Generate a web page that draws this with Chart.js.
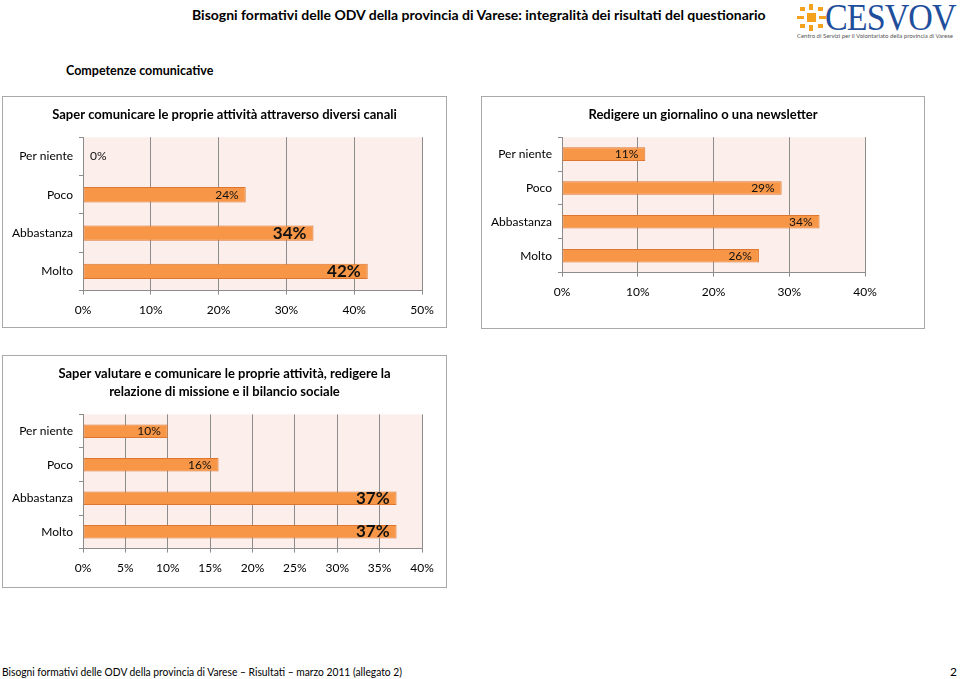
<!DOCTYPE html>
<html>
<head>
<meta charset="utf-8">
<script src="https://cdn.jsdelivr.net/npm/chart.js@4/dist/chart.umd.min.js"></script>
<style>
  body { margin: 0; width: 960px; height: 679px; background: #fff; position: relative; overflow: hidden; font-family: Lato, 'Open Sans', sans-serif; color: #000; }
  .txt { position: absolute; white-space: nowrap; }
  .box { position: absolute; border: 1px solid #a9a9a9; box-sizing: border-box; background: #fff; }
  .box canvas { display: block; }
</style>
</head>
<body>

<div class="txt" style="left:192px; top:6px; font-size:14px; font-weight:bold;">Bisogni formativi delle ODV della provincia di Varese: integralità dei risultati del questionario</div>

<!-- logo -->
<svg style="position:absolute; left:796px; top:4px;" width="30" height="28" viewBox="0 0 30 28">
  <g fill="#f4a11d">
    <rect x="11" y="9" width="9" height="9"/>
    <rect x="13" y="0" width="4" height="6"/>
    <rect x="13" y="21" width="4" height="6"/>
    <rect x="1" y="12" width="7" height="3"/>
    <rect x="23" y="12" width="7" height="3"/>
    <rect x="4" y="3" width="5" height="4"/>
    <rect x="22" y="3" width="5" height="4"/>
    <rect x="4" y="20" width="5" height="4"/>
    <rect x="22" y="20" width="5" height="4"/>
  </g>
</svg>
<div class="txt" style="left:825px; top:-4px; font-family:'Liberation Serif', serif; font-size:37px; color:#1f4f9c; letter-spacing:-1px; transform:scaleX(0.92); transform-origin:left;">CESVOV</div>
<div class="txt" style="left:797px; top:32px; font-size:6px; color:#555;">Centro di Servizi per il Volontariato della provincia di Varese</div>

<div class="txt" style="left:66px; top:63px; font-size:12.5px; font-weight:bold;">Competenze comunicative</div>

<div class="box" style="left:2px; top:96px; width:445px; height:232px;"><canvas id="canali"></canvas></div>
<div class="box" style="left:481px; top:96px; width:444px; height:233px;"><canvas id="newsletter"></canvas></div>
<div class="box" style="left:2px; top:355px; width:445px; height:233px;"><canvas id="bilancio"></canvas></div>

<div class="txt" style="left:2px; top:664px; font-size:12px; transform:scaleX(0.855); transform-origin:left;">Bisogni formativi delle ODV della provincia di Varese – Risultati – marzo 2011 (allegato 2)</div>
<div class="txt" style="left:950px; top:664px; font-size:12px;">2</div>

<script>
// CATEGORIES AND VALUES (percent)
const categories = ['Per niente', 'Poco', 'Abbastanza', 'Molto'];
const canaliValues = [0, 24, 34, 42];
const newsletterValues = [11, 29, 34, 26];
const bilancioValues = [10, 16, 37, 37];

// AXIS RANGES
const canaliMax = 50, canaliStep = 10;
const newsletterMax = 40, newsletterStep = 10;
const bilancioMax = 40, bilancioStep = 5;

const FONT = "Lato, 'Open Sans', sans-serif";
Chart.defaults.font.family = FONT;
Chart.defaults.color = '#000';

// pink plot background
const plotBackground = {
    id: 'plotBackground',
    beforeDraw(chart){
        let a = chart.chartArea;
        let ctx = chart.ctx;
        ctx.save();
        ctx.fillStyle = '#fcefeb';
        ctx.fillRect(a.left, a.top, a.right - a.left, a.bottom - a.top);
        ctx.restore();
    }
};

// value labels at the inner end of each bar
const valueLabels = {
    id: 'valueLabels',
    afterDatasetsDraw(chart, args, opts){
        let ctx = chart.ctx;
        let meta = chart.getDatasetMeta(0);
        let values = chart.data.datasets[0].data;
        let base = chart.scales.x.getPixelForValue(0);
        meta.data.forEach((bar, i) => {
            let big = opts.highlight.includes(i);
            ctx.save();
            ctx.font = (big ? 'bold 17px ' : '12px ') + FONT;
            ctx.fillStyle = '#111';
            ctx.textBaseline = 'middle';
            if (values[i] === 0){
                ctx.textAlign = 'left';
                ctx.fillText(values[i] + '%', base + 7, bar.y);
            } else {
                ctx.textAlign = 'right';
                ctx.fillText(values[i] + '%', bar.x - 7, bar.y);
            };
            ctx.restore();
        });
    }
};

function plotBars(canvasId, title, values, xMax, xStep, highlight, rightGap, bottomPad, titlePad){
    let ctx = document.getElementById(canvasId).getContext('2d');
    return new Chart(ctx, {
        type: 'bar',
        data: {
            labels: categories,
            datasets: [{
                data: values,
                backgroundColor: '#f79646',
                borderColor: '#dc7630',
                borderWidth: 1,
                borderSkipped: false,
                categoryPercentage: 1,
                barPercentage: 0.4
            }]
        },
        options: {
            indexAxis: 'y',
            responsive: true,
            maintainAspectRatio: false,
            animation: false,
            events: [],
            layout: { padding: { left: 0, right: 0, bottom: bottomPad } },
            plugins: {
                legend: { display: false },
                tooltip: { enabled: false },
                title: {
                    display: true,
                    text: title,
                    color: '#000',
                    font: { size: 13, weight: 'bold', lineHeight: 1.4 },
                    padding: titlePad
                },
                valueLabels: { highlight: highlight }
            },
            scales: {
                x: {
                    min: 0,
                    max: xMax,
                    ticks: {
                        stepSize: xStep,
                        padding: 8,
                        font: { size: 12 },
                        callback: v => v + '%'
                    },
                    grid: { color: '#8c8c8c', tickLength: 4 },
                    border: { color: '#8c8c8c' }
                },
                y: {
                    afterFit(scale){ scale.width = 80; },
                    ticks: { padding: 6, font: { size: 12 } },
                    grid: { drawOnChartArea: false, color: '#8c8c8c', tickLength: 4 },
                    border: { color: '#8c8c8c' }
                },
                // empty right-hand gap, keeps the title centred on the whole box
                gap: {
                    type: 'linear',
                    axis: 'y',
                    position: 'right',
                    afterFit(scale){ scale.width = rightGap; },
                    ticks: { display: false },
                    grid: { display: false },
                    border: { display: false }
                }
            }
        },
        plugins: [plotBackground, valueLabels]
    });
};

plotBars('canali', 'Saper comunicare le proprie attività attraverso diversi canali',
    canaliValues, canaliMax, canaliStep, [2, 3], 24, 2, { top: 9, bottom: 13 });

plotBars('newsletter', 'Redigere un giornalino o una newsletter',
    newsletterValues, newsletterMax, newsletterStep, [], 59, 21, { top: 9, bottom: 13 });

plotBars('bilancio', ['Saper valutare e comunicare le proprie attività, redigere la', 'relazione di missione e il bilancio sociale'],
    bilancioValues, bilancioMax, bilancioStep, [2, 3], 24, 4, { top: 9, bottom: 13 });
</script>
</body>
</html>
